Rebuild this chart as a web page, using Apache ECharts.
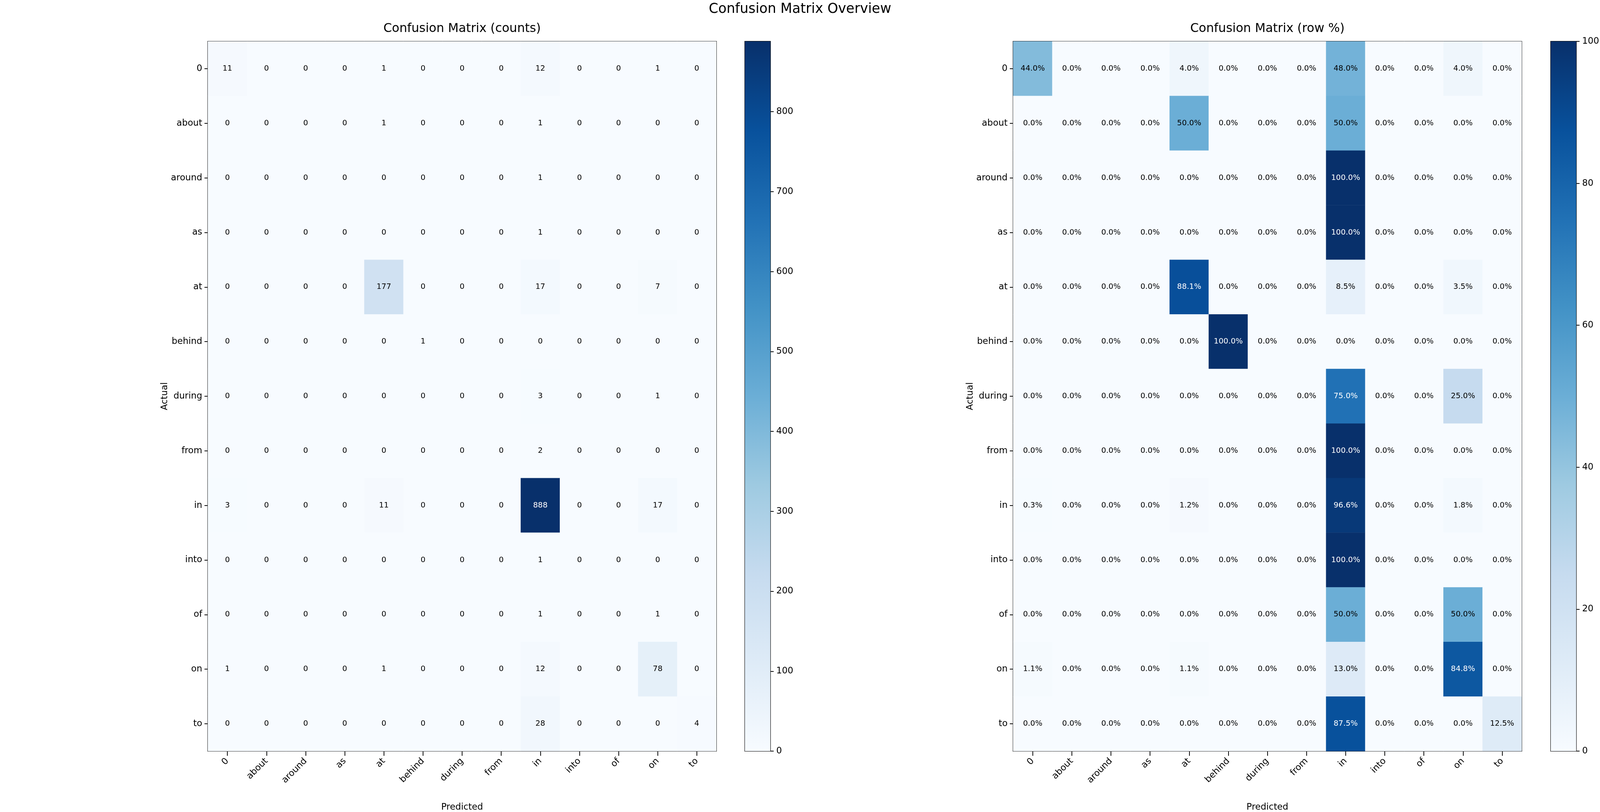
<!DOCTYPE html>
<html lang="en">
<head>
    <meta charset="UTF-8">
    <title>Confusion Matrix Overview</title>
    <script src="https://cdn.jsdelivr.net/npm/echarts@6/dist/echarts.min.js"></script>
    <style>
        html, body { margin: 0; padding: 0; background: #fff; width: 100%; height: 100%; overflow: hidden; }
        #chart { width: 100vw; height: 100vh; }
    </style>
</head>
<body>
    <div id="chart"></div>
    <script>
        // labels shared by both matrices (rows = actual, columns = predicted)
        var classes = ['0', 'about', 'around', 'as', 'at', 'behind', 'during', 'from', 'in', 'into', 'of', 'on', 'to'];

        // counts, one row per actual class
        var counts = [
            [11, 0, 0, 0, 1, 0, 0, 0, 12, 0, 0, 1, 0],
            [0, 0, 0, 0, 1, 0, 0, 0, 1, 0, 0, 0, 0],
            [0, 0, 0, 0, 0, 0, 0, 0, 1, 0, 0, 0, 0],
            [0, 0, 0, 0, 0, 0, 0, 0, 1, 0, 0, 0, 0],
            [0, 0, 0, 0, 177, 0, 0, 0, 17, 0, 0, 7, 0],
            [0, 0, 0, 0, 0, 1, 0, 0, 0, 0, 0, 0, 0],
            [0, 0, 0, 0, 0, 0, 0, 0, 3, 0, 0, 1, 0],
            [0, 0, 0, 0, 0, 0, 0, 0, 2, 0, 0, 0, 0],
            [3, 0, 0, 0, 11, 0, 0, 0, 888, 0, 0, 17, 0],
            [0, 0, 0, 0, 0, 0, 0, 0, 1, 0, 0, 0, 0],
            [0, 0, 0, 0, 0, 0, 0, 0, 1, 0, 0, 1, 0],
            [1, 0, 0, 0, 1, 0, 0, 0, 12, 0, 0, 78, 0],
            [0, 0, 0, 0, 0, 0, 0, 0, 28, 0, 0, 0, 4]
        ];

        // row percentages as printed in the right panel
        var rowPct = [
            [44.0, 0, 0, 0, 4.0, 0, 0, 0, 48.0, 0, 0, 4.0, 0],
            [0, 0, 0, 0, 50.0, 0, 0, 0, 50.0, 0, 0, 0, 0],
            [0, 0, 0, 0, 0, 0, 0, 0, 100.0, 0, 0, 0, 0],
            [0, 0, 0, 0, 0, 0, 0, 0, 100.0, 0, 0, 0, 0],
            [0, 0, 0, 0, 88.1, 0, 0, 0, 8.5, 0, 0, 3.5, 0],
            [0, 0, 0, 0, 0, 100.0, 0, 0, 0, 0, 0, 0, 0],
            [0, 0, 0, 0, 0, 0, 0, 0, 75.0, 0, 0, 25.0, 0],
            [0, 0, 0, 0, 0, 0, 0, 0, 100.0, 0, 0, 0, 0],
            [0.3, 0, 0, 0, 1.2, 0, 0, 0, 96.6, 0, 0, 1.8, 0],
            [0, 0, 0, 0, 0, 0, 0, 0, 100.0, 0, 0, 0, 0],
            [0, 0, 0, 0, 0, 0, 0, 0, 50.0, 0, 0, 50.0, 0],
            [1.1, 0, 0, 0, 1.1, 0, 0, 0, 13.0, 0, 0, 84.8, 0],
            [0, 0, 0, 0, 0, 0, 0, 0, 87.5, 0, 0, 0, 12.5]
        ];

        var countMax = 888;
        var pctMax = 100;
        var countTicks = [0, 100, 200, 300, 400, 500, 600, 700, 800];
        var pctTicks = [0, 20, 40, 60, 80, 100];

        // matplotlib "Blues"
        var blues = ['#f7fbff', '#deebf7', '#c6dbef', '#9ecae1', '#6baed6', '#4292c6', '#2171b5', '#08519c', '#08306b'];

        var FONT = 'DejaVu Sans';

        var el = document.getElementById('chart');
        var chart = echarts.init(el, null, { renderer: 'canvas' });

        // layout measured on the 5720x2080 reference; the window may be narrower, so scale per axis
        var sx = chart.getWidth() / 5720;
        var sy = chart.getHeight() / 2080;
        var k = Math.sqrt(sx * sy);
        function X(v) { return v * sx; }
        function Y(v) { return v * sy; }
        function F(v) { return Math.round(v * k * 10) / 10; }

        function cells(matrix, max) {
            var out = [];
            for (var r = 0; r < matrix.length; r++) {
                for (var c = 0; c < matrix[r].length; c++) {
                    var v = matrix[r][c];
                    out.push({
                        value: [c, r, v],
                        label: { color: v > max / 2 ? '#fff' : '#000' }
                    });
                }
            }
            return out;
        }

        function gradient() {
            var stops = blues.map(function (col, i) {
                return { offset: i / (blues.length - 1), color: col };
            });
            return new echarts.graphic.LinearGradient(0, 1, 0, 0, stops);
        }

        var plots = [
            { left: 743, cbLeft: 2663 },
            { left: 3622, cbLeft: 5544 }
        ];
        // "top" is a window property, so plotTop
        var plotW = 1818, plotH = 1818, plotTop = 106, cbW = 91;
        var tickFont = F(27);

        function heatAxes(i) {
            var axisStyle = { show: true, lineStyle: { color: '#000', width: F(2.5) } };
            var tickStyle = { color: '#000', width: F(2.2) };
            return {
                x: {
                    type: 'category', gridIndex: i, data: classes, position: 'bottom',
                    axisLine: axisStyle, splitLine: { show: false },
                    axisTick: { show: true, alignWithLabel: true, length: Y(12), lineStyle: tickStyle },
                    axisLabel: { rotate: 45, margin: Y(22), fontSize: tickFont, color: '#000', fontFamily: FONT, interval: 0 },
                    name: 'Predicted', nameLocation: 'middle', nameGap: Y(144) - tickFont / 2,
                    nameTextStyle: { fontSize: tickFont, color: '#000', fontFamily: FONT }
                },
                y: {
                    type: 'category', gridIndex: i, data: classes, inverse: true,
                    axisLine: axisStyle, splitLine: { show: false },
                    axisTick: { show: true, alignWithLabel: true, length: X(12), lineStyle: tickStyle },
                    axisLabel: { margin: X(20), fontSize: tickFont, color: '#000', fontFamily: FONT, interval: 0 },
                    name: 'Actual', nameLocation: 'middle', nameGap: X(148) - tickFont / 2, nameRotate: 90,
                    nameTextStyle: { fontSize: tickFont, color: '#000', fontFamily: FONT }
                }
            };
        }

        function cbAxes(i, max, ticks) {
            return {
                x: { type: 'category', gridIndex: i, data: ['cb'], show: false },
                y: {
                    type: 'value', gridIndex: i, min: 0, max: max, position: 'right',
                    splitLine: { show: false },
                    axisLine: { show: true, lineStyle: { color: '#000', width: F(2.5) } },
                    axisTick: { show: true, length: X(12), customValues: ticks, lineStyle: { color: '#000', width: F(2.2) } },
                    axisLabel: { margin: X(21), fontSize: tickFont, color: '#000', fontFamily: FONT, customValues: ticks }
                }
            };
        }

        function grid(left, width) {
            return {
                left: X(left), top: Y(plotTop), width: X(width), height: Y(plotH),
                show: true, borderColor: '#000', borderWidth: F(2.5), backgroundColor: 'transparent',
                containLabel: false, outerBoundsMode: 'none'
            };
        }

        function title(text, cx, cy, size) {
            var fs = F(size);
            return {
                text: text, left: X(cx), top: Y(cy) - fs * 0.6, textAlign: 'center', padding: 0,
                textStyle: { fontSize: fs, fontWeight: 'normal', color: '#000', fontFamily: FONT }
            };
        }

        var a0 = heatAxes(0), a1 = heatAxes(1);
        var c0 = cbAxes(2, countMax, countTicks), c1 = cbAxes(3, pctMax, pctTicks);

        chart.setOption({
            animation: false,
            backgroundColor: '#fff',
            textStyle: { fontFamily: FONT },
            title: [
                title('Confusion Matrix Overview', 2860, 27, 41),
                title('Confusion Matrix (counts)', plots[0].left + plotW / 2, 77, 37),
                title('Confusion Matrix (row %)', plots[1].left + plotW / 2, 77, 37)
            ],
            grid: [
                grid(plots[0].left, plotW),
                grid(plots[1].left, plotW),
                grid(plots[0].cbLeft, cbW),
                grid(plots[1].cbLeft, cbW)
            ],
            xAxis: [a0.x, a1.x, c0.x, c1.x],
            yAxis: [a0.y, a1.y, c0.y, c1.y],
            visualMap: [
                { type: 'continuous', show: false, seriesIndex: 0, dimension: 2, min: 0, max: countMax, inRange: { color: blues } },
                { type: 'continuous', show: false, seriesIndex: 1, dimension: 2, min: 0, max: pctMax, inRange: { color: blues } }
            ],
            series: [
                {
                    type: 'heatmap', xAxisIndex: 0, yAxisIndex: 0, data: cells(counts, countMax),
                    label: { show: true, fontSize: F(23), fontFamily: FONT,
                             formatter: function (p) { return String(p.value[2]); } },
                    emphasis: { disabled: true }
                },
                {
                    type: 'heatmap', xAxisIndex: 1, yAxisIndex: 1, data: cells(rowPct, pctMax),
                    label: { show: true, fontSize: F(23), fontFamily: FONT,
                             formatter: function (p) { return p.value[2].toFixed(1) + '%'; } },
                    emphasis: { disabled: true }
                },
                {
                    type: 'bar', xAxisIndex: 2, yAxisIndex: 2, data: [countMax], barWidth: '100%',
                    itemStyle: { color: gradient() }, silent: true
                },
                {
                    type: 'bar', xAxisIndex: 3, yAxisIndex: 3, data: [pctMax], barWidth: '100%',
                    itemStyle: { color: gradient() }, silent: true
                }
            ]
        });
    </script>
</body>
</html>
